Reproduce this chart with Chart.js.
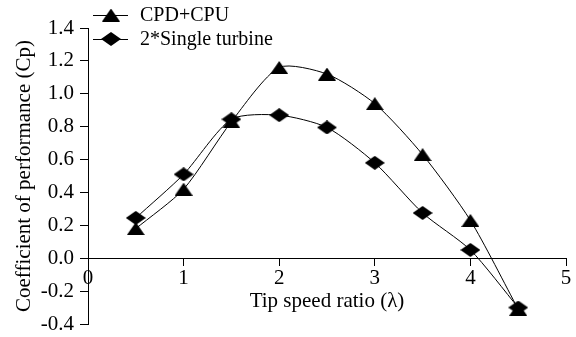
<!DOCTYPE html>
<html>
<head>
<meta charset="utf-8">
<script src="https://cdn.jsdelivr.net/npm/chart.js@4/dist/chart.umd.min.js"></script>
<style>
html,body{margin:0;padding:0;background:#fff;}
#wrap{width:576px;height:337px;}
</style>
</head>
<body>
<div id="wrap"><canvas id="c" width="576" height="337"></canvas></div>
<script>
const tipSpeedRatio = [0.5, 1.0, 1.5, 2.0, 2.5, 3.0, 3.5, 4.0, 4.5];
const cpdCpu = [0.18, 0.42, 0.83, 1.16, 1.12, 0.94, 0.63, 0.23, -0.31];
const singleTurbine2x = [0.245, 0.51, 0.845, 0.87, 0.795, 0.58, 0.275, 0.05, -0.30];
const seriesNames = ['CPD+CPU', '2*Single turbine'];
const xTitle = 'Tip speed ratio (\u03bb)';
const yTitle = 'Coefficient of performance (Cp)';

const FONT = "'Liberation Serif'";

function makeTriangle(w, h) {
  const c = document.createElement('canvas');
  c.width = w; c.height = h;
  const g = c.getContext('2d');
  g.fillStyle = '#000';
  g.beginPath();
  g.moveTo(w / 2, 0);
  g.lineTo(w, h);
  g.lineTo(0, h);
  g.closePath();
  g.fill();
  return c;
}
function makeDiamond(w, h) {
  const c = document.createElement('canvas');
  c.width = w; c.height = h;
  const g = c.getContext('2d');
  g.fillStyle = '#000';
  g.beginPath();
  g.moveTo(w / 2, 0);
  g.lineTo(w, h / 2);
  g.lineTo(w / 2, h);
  g.lineTo(0, h / 2);
  g.closePath();
  g.fill();
  return c;
}
const triImg = makeTriangle(18, 13);
const diaImg = makeDiamond(20, 14);

const legendPlugin = {
  id: 'customLegend',
  afterDraw(chart) {
    const ctx = chart.ctx;
    ctx.save();
    const items = [
      {y: 15, img: triImg, text: seriesNames[0]},
      {y: 39, img: diaImg, text: seriesNames[1]}
    ];
    ctx.strokeStyle = '#000';
    ctx.lineWidth = 1;
    ctx.fillStyle = '#000';
    ctx.font = "20px " + FONT;
    ctx.textBaseline = 'middle';
    ctx.textAlign = 'left';
    items.forEach(it => {
      ctx.beginPath();
      ctx.moveTo(93, it.y + 0.5);
      ctx.lineTo(128, it.y + 0.5);
      ctx.stroke();
      ctx.drawImage(it.img, 111 - it.img.width / 2, it.y - it.img.height / 2);
      ctx.fillText(it.text, 140, it.y + 1);
    });
    ctx.restore();
  }
};

new Chart(document.getElementById('c'), {
  type: 'line',
  data: {
    datasets: [
      {
        label: seriesNames[0],
        data: tipSpeedRatio.map((x, i) => ({x: x, y: cpdCpu[i]})),
        borderColor: '#000',
        backgroundColor: '#000',
        borderWidth: 1,
        tension: 0.24,
        pointStyle: triImg,
        pointRadius: 9,
        fill: false
      },
      {
        label: seriesNames[1],
        data: tipSpeedRatio.map((x, i) => ({x: x, y: singleTurbine2x[i]})),
        borderColor: '#000',
        backgroundColor: '#000',
        borderWidth: 1,
        tension: 0.24,
        pointStyle: diaImg,
        pointRadius: 9,
        fill: false
      }
    ]
  },
  options: {
    responsive: false,
    animation: false,
    events: [],
    layout: {padding: {top: 28, right: 2, bottom: 13, left: 0}},
    plugins: {
      legend: {display: false},
      tooltip: {enabled: false}
    },
    scales: {
      x: {
        type: 'linear',
        position: {y: 0},
        min: 0,
        max: 5,
        ticks: {
          stepSize: 1,
          color: '#000',
          padding: 1,
          font: {family: FONT, size: 21},
          maxRotation: 0
        },
        grid: {
          drawOnChartArea: false,
          drawTicks: true,
          tickLength: 7,
          color: '#000',
          lineWidth: 1
        },
        border: {display: true, color: '#000', width: 1},
        title: {
          display: true,
          text: xTitle,
          color: '#000',
          font: {family: FONT, size: 21},
          padding: {top: -4, bottom: 0}
        }
      },
      y: {
        type: 'linear',
        position: 'left',
        min: -0.4,
        max: 1.4,
        afterFit(s) { s.width = 88; s.paddingTop = 0; s.paddingBottom = 0; },
        ticks: {
          stepSize: 0.2,
          color: '#000',
          padding: 6,
          font: {family: FONT, size: 21},
          callback: v => (Math.abs(v) < 1e-9 ? 0 : v).toFixed(1)
        },
        grid: {
          drawOnChartArea: false,
          drawTicks: true,
          tickLength: 8,
          color: '#000',
          lineWidth: 1
        },
        border: {display: true, color: '#000', width: 1},
        title: {
          display: true,
          text: yTitle,
          color: '#000',
          font: {family: FONT, size: 21},
          padding: {top: 12, bottom: 0}
        }
      }
    }
  },
  plugins: [legendPlugin]
});
</script>
</body>
</html>
